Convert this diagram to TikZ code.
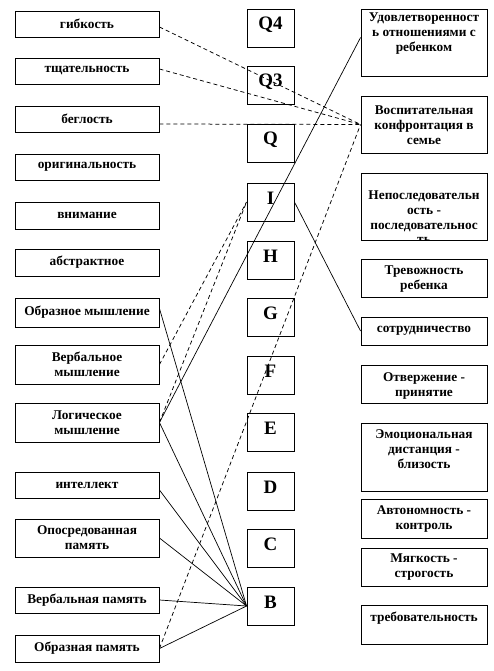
\documentclass[tikz,border=0pt]{standalone}
\usepackage{fontspec}
\setmainfont{Liberation Serif}
\newcommand{\fl}{\rule{0pt}{10pt}}
\begin{document}
\begin{tikzpicture}[x=1pt,y=-1pt,
  frame/.style={draw, line width=0.9pt},
  lbox/.style={frame, minimum width=144pt, inner sep=1pt, align=center,
    font=\fontsize{13.33}{15}\selectfont\bfseries},
  mbox/.style={frame, minimum width=47pt, minimum height=38pt, inner sep=0pt,
    text height=13pt, text depth=9pt, font=\fontsize{19}{19}\selectfont\bfseries},
  rbox/.style={frame, minimum width=126pt, inner sep=0pt},
  rtxt/.style={anchor=north, align=center, inner sep=0pt, yshift=-(#1-10)*1pt,
    font=\fontsize{13.33}{15}\selectfont\bfseries},
  link/.style={line width=0.7pt},
  dlink/.style={line width=0.75pt, dash pattern=on 4pt off 3pt}]
\fill[white] (0,0) rectangle (493,671);
\path[use as bounding box] (0,0) rectangle (493,671);

% left column
\node[lbox, minimum height=26pt] (l1) at (87,24) {гибкость};
\node[lbox, minimum height=26pt] (l2) at (87,71) {тщательность};
\node[lbox, minimum height=26pt] (l3) at (87,119) {беглость};
\node[lbox, minimum height=26pt] (l4) at (87,167) {оригинальность};
\node[lbox, minimum height=27pt] (l5) at (87,215.5) {внимание};
\node[lbox, minimum height=27pt] (l6) at (87,262.5) {абстрактное};
\node[lbox, minimum height=29pt] (l7) at (87,312.5) {Образное мышление};
\node[lbox, minimum height=39pt] (l8) at (87,364.5) {Вербальное\\мышление};
\node[lbox, minimum height=39pt] (l9) at (87,422.5) {Логическое\\мышление};
\node[lbox, minimum height=26pt] (l10) at (87,485) {интеллект};
\node[lbox, minimum height=38pt] (l11) at (87,538) {Опосредованная\\память};
\node[lbox, minimum height=26pt] (l12) at (87,600) {Вербальная память};
\node[lbox, minimum height=27pt] (l13) at (87,648.5) {Образная память};

% middle column
\node[mbox] (mQ4) at (270.5,28) {Q4};
\node[mbox] (mQ3) at (270.5,85) {Q3};
\node[mbox] (mQ) at (270.5,143) {Q};
\node[mbox] (mI) at (270.5,202) {I};
\node[mbox] (mH) at (270.5,260) {H};
\node[mbox] (mG) at (270.5,317) {G};
\node[mbox] (mF) at (270.5,375) {F};
\node[mbox] (mE) at (270.5,432) {E};
\node[mbox] (mD) at (270.5,491) {D};
\node[mbox] (mC) at (270.5,548) {C};
\node[mbox] (mB) at (270.5,606) {B};

% right column
\node[rbox, minimum height=67pt] (r1) at (424,42.5) {};
\node[rtxt=13] (t1) at (r1.north) {\fl Удовлетворенност\\ь отношениями с\\ребенком};
\node[rbox, minimum height=57pt] (r2) at (424,124.5) {};
\node[rtxt=18.5] (t2) at (r2.north) {\fl Воспитательная\\конфронтация в\\семье};
\node[rbox, minimum height=67pt] (r3) at (424,206.5) {};
\node[rtxt=26.5] (t3) at (r3.north) {\fl Непоследовательн\\ость -\\последовательнос};
\node[rbox, minimum height=38pt] (r4) at (424,278) {};
\node[rtxt=16] (t4) at (r4.north) {\fl Тревожность\\ребенка};
\node[rbox, minimum height=28pt] (r5) at (424,331) {};
\node[rtxt=15.7] (t5) at (r5.north) {\fl сотрудничество};
\node[rbox, minimum height=38pt] (r6) at (424,384) {};
\node[rtxt=16.5] (t6) at (r6.north) {\fl Отвержение -\\принятие};
\node[rbox, minimum height=68pt] (r7) at (424,457) {};
\node[rtxt=16] (t7) at (r7.north) {\fl Эмоциональная\\дистанция -\\близость};
\node[rbox, minimum height=39pt] (r8) at (424,518.5) {};
\node[rtxt=16] (t8) at (r8.north) {\fl Автономность -\\контроль};
\node[rbox, minimum height=38pt] (r9) at (424,567) {};
\node[rtxt=15] (t9) at (r9.north) {\fl Мягкость -\\строгость};
\node[rbox, minimum height=39pt] (r10) at (424,624.5) {};
\node[rtxt=16.5] (t10) at (r10.north) {\fl требовательность};
% clipped last line of r3
\begin{scope}
\clip (r3.south west) rectangle (r3.north east);
\node[anchor=base, inner sep=0pt, font=\fontsize{13.33}{15}\selectfont\bfseries] (t3b) at ([yshift=-3pt]r3.south) {ть};
\end{scope}

% dashed connectors
\draw[dlink] ([yshift=-3pt]l1.east) -- (r2.west);
\draw[dlink] ([yshift=2pt]l2.east) -- (r2.west);
\draw[dlink] ([yshift=-5pt]l3.east) -- (r2.west);
\draw[dlink] (l8.east) -- (mI.west);
\draw[dlink] (l9.east) -- (mI.west);
\draw[dlink] (l13.east) -- (r2.west);

% solid connectors
\draw[link] ([yshift=4pt]l7.east) -- (mB.west);
\draw[link] (l9.east) -- ([yshift=5pt]r1.west);
\draw[link] (l9.east) -- (mB.west);
\draw[link] ([yshift=-5pt]l10.east) -- (mB.west);
\draw[link] (l11.east) -- (mB.west);
\draw[link] (l12.east) -- (mB.west);
\draw[link] (l13.east) -- (mB.west);
\draw[link] (mI.east) -- (r5.west);
\end{tikzpicture}
\end{document}
